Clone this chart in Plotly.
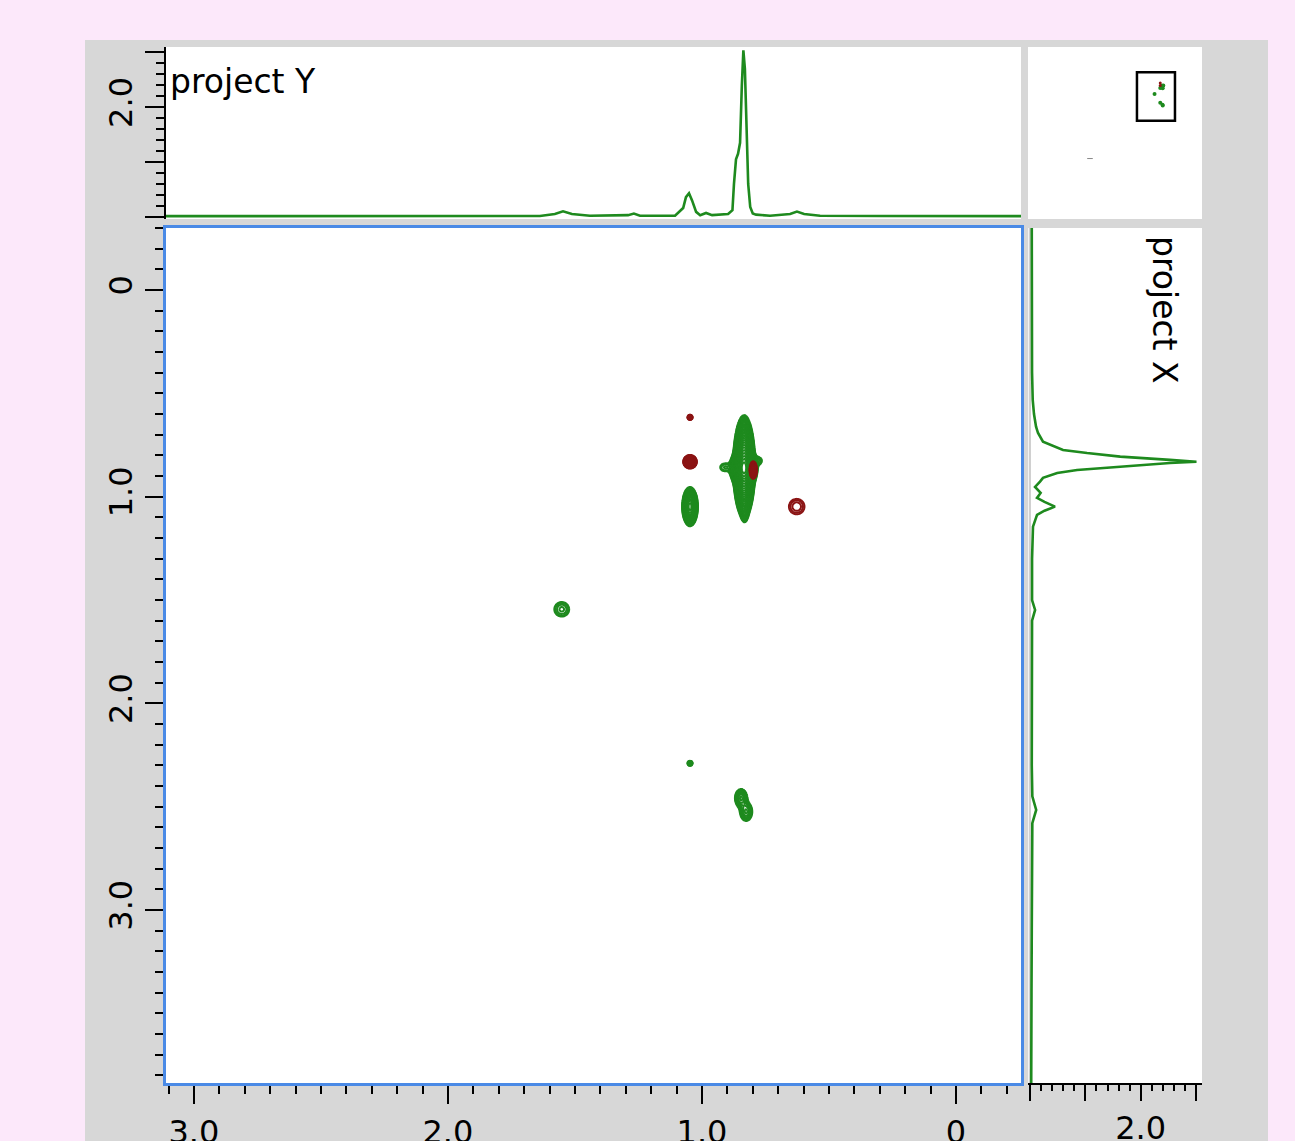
import numpy as np
import plotly.graph_objects as go

# ---------------- data ----------------
# top projection ("project Y"): F2 chemical shift (ppm) vs intensity
proj_y_ppm = [3.11, 2.50, 2.00, 1.70, 1.638, 1.579, 1.547, 1.512, 1.441, 1.291, 1.268, 1.244,
              1.106, 1.074, 1.063, 1.051, 1.039, 1.023, 1.007, 0.984, 0.960, 0.897, 0.880,
              0.874, 0.866, 0.858, 0.850, 0.843, 0.837, 0.831, 0.825, 0.818, 0.810, 0.800,
              0.787, 0.732, 0.653, 0.626, 0.598, 0.535, 0.30, 0.0, -0.256]
proj_y_int = [0.012, 0.012, 0.013, 0.014, 0.015, 0.05, 0.10, 0.05, 0.02, 0.03, 0.06, 0.02,
              0.02, 0.16, 0.36, 0.43, 0.30, 0.09, 0.03, 0.07, 0.03, 0.05, 0.12,
              0.60, 1.05, 1.15, 1.35, 2.40, 3.04, 2.70, 1.60, 0.60, 0.18, 0.06,
              0.04, 0.02, 0.05, 0.095, 0.05, 0.02, 0.015, 0.013, 0.012]

# right projection ("project X"): F1 chemical shift (ppm) vs intensity
proj_x_ppm = [-0.30, 0.10, 0.40, 0.532, 0.60, 0.661, 0.692, 0.734, 0.774, 0.789, 0.806, 0.822,
              0.831, 0.837, 0.855, 0.871, 0.885, 0.909, 0.927, 0.953, 0.982, 1.006, 1.025,
              1.048, 1.068, 1.088, 1.145, 1.30, 1.50, 1.548, 1.60, 1.80, 2.00, 2.30, 2.45,
              2.516, 2.58, 2.80, 3.10, 3.40, 3.837]
proj_x_int = [0.03, 0.03, 0.035, 0.047, 0.07, 0.107, 0.143, 0.233, 0.595, 1.03, 1.63, 2.53,
              3.01, 2.53, 1.63, 0.85, 0.49, 0.233, 0.179, 0.089, 0.19, 0.125, 0.26,
              0.45, 0.26, 0.125, 0.052, 0.035, 0.035, 0.09, 0.035, 0.03, 0.035, 0.03, 0.04,
              0.11, 0.04, 0.03, 0.03, 0.025, 0.02]

# positive cross peaks (F2 ppm, F1 ppm, relative height, linewidths in ppm)
pos_f2 = [0.834, 0.836, 0.832, 0.909, 0.778, 1.047, 1.552, 1.047, 0.846, 0.826]
pos_f1 = [0.855, 0.862, 1.070, 0.858, 0.826, 1.048, 1.545, 2.290, 2.459, 2.524]
pos_amp = [300, 200, 3.0, 1.6, 1.6, 40, 2.1, 4.0, 5.0, 4.0]
pos_wf2 = [0.0130, 0.0170, 0.008, 0.0197, 0.0142, 0.0115, 0.0240, 0.0062, 0.0135, 0.0145]
pos_wf1 = [0.074, 0.030, 0.030, 0.0194, 0.0174, 0.035, 0.0290, 0.0076, 0.025, 0.027]

# negative cross peaks
neg_f2 = [1.047, 1.047, 0.798, 0.627]
neg_f1 = [0.616, 0.831, 0.871, 1.048]
neg_amp = [5.0, 25.0, 12.0, 1.9]
neg_wf2 = [0.0058, 0.0106, 0.0066, 0.027]
neg_wf1 = [0.0072, 0.0130, 0.019, 0.033]

# overview: extra peak (solvent) outside the zoom window
solvent_f2 = [7.27]
solvent_f1 = [7.05]

x_ticks = [3.0, 2.0, 1.0, 0.0]
x_ticktext = ["3.0", "2.0", "1.0", "0"]
y_ticks = [0.0, 1.0, 2.0, 3.0]
y_ticktext = ["0", "1.0", "2.0", "3.0"]
proj_ticks = [0, 1, 2, 3]
proj_ticktext = ["", "", "2.0", ""]

# ---------------- styles ----------------
GREEN = "#1e8a1e"
RED = "#8b1414"
BLUE = "#4a8ae6"
PINK = "#fce8fa"
GRAY = "#d7d7d7"
FONT = "DejaVu Sans"
LEVEL_FACTOR = 1.25

X_RANGE = [3.110, -0.256]
Y_RANGE = [3.837, -0.300]

# contour field built from the peak list
gx = np.arange(0.50, 1.70, 0.003)
gy = np.arange(0.45, 2.70, 0.0035)
GX, GY = np.meshgrid(gx, gy)


def field(f2, f1, amp, w2, w1):
    z = np.zeros_like(GX)
    for a, b, c, d, e in zip(f2, f1, amp, w2, w1):
        z += c * np.exp(-0.5 * (((GX - a) / d) ** 2 + ((GY - b) / e) ** 2))
    return np.log(np.maximum(z, 1e-4)) / np.log(LEVEL_FACTOR)


zpos = field(pos_f2, pos_f1, pos_amp, pos_wf2, pos_wf1).astype(np.float32)
zneg = field(neg_f2, neg_f1, neg_amp, neg_wf2, neg_wf1).astype(np.float32)

# ---------------- layout helpers ----------------
L, R, T, B = 85, 27, 40, 0
W, H = 1295, 1141
PW, PH = W - L - R, H - T - B


def dx(a, b):
    return [(a - L) / PW, (b - L) / PW]


def dy(top, bot):
    return [1 - (bot - T) / PH, 1 - (top - T) / PH]


MAIN_X, MAIN_Y = dx(166, 1021), dy(228, 1083)
TOP_X, TOP_Y = dx(166, 1021), dy(47, 219)
RIGHT_X, RIGHT_Y = dx(1028.3, 1202), dy(228, 1083)
OV_X, OV_Y = dx(1028, 1202), dy(47, 219)

fig = go.Figure()

for zf, col in ((zpos, GREEN), (zneg, RED)):
    fig.add_trace(go.Contour(
        x=gx, y=gy, z=zf, xaxis="x", yaxis="y",
        contours=dict(start=0, end=40, size=1, coloring="lines"),
        autocontour=False,
        line=dict(width=2), colorscale=[[0, col], [1, col]],
        showscale=False, hoverinfo="skip"))

fig.add_trace(go.Scatter(x=proj_y_ppm, y=proj_y_int, xaxis="x2", yaxis="y2",
                         mode="lines", line=dict(color=GREEN, width=2.6)))
fig.add_trace(go.Scatter(x=proj_x_int, y=proj_x_ppm, xaxis="x3", yaxis="y3",
                         mode="lines", line=dict(color=GREEN, width=2.6)))

# overview thumbnail
fig.add_trace(go.Scatter(x=pos_f2, y=pos_f1, xaxis="x4", yaxis="y4", mode="markers",
                         marker=dict(color=GREEN, size=4, line=dict(width=0))))
fig.add_trace(go.Scatter(x=neg_f2[:2], y=neg_f1[:2], xaxis="x4", yaxis="y4", mode="markers",
                         marker=dict(color=RED, size=3, line=dict(width=0))))
fig.add_trace(go.Scatter(x=solvent_f2, y=solvent_f1, xaxis="x4", yaxis="y4", mode="markers",
                         marker=dict(color="#888888", size=4, symbol="line-ew",
                                     line=dict(color="#888888", width=1))))

tickfont = dict(family=FONT, size=32, color="black")


def white_panel(xd, yd):
    return dict(type="rect", xref="paper", yref="paper", x0=xd[0], x1=xd[1],
                y0=yd[0], y1=yd[1], fillcolor="white", line=dict(width=0), layer="below")


hidden = dict(showgrid=False, zeroline=False, showline=False,
              showticklabels=False, ticks="", automargin=False)

fig.update_layout(
    width=W, height=H,
    margin=dict(l=L, r=R, t=T, b=B, autoexpand=False),
    paper_bgcolor=PINK, plot_bgcolor="rgba(0,0,0,0)",
    showlegend=False,
    font=dict(family=FONT, size=32, color="black"),
    xaxis=dict(domain=MAIN_X, range=X_RANGE, anchor="y", automargin=False,
               showgrid=False, zeroline=False,
               showline=True, linecolor=BLUE, linewidth=2.5, mirror=True,
               ticks="outside", tickcolor="black", tickwidth=2, ticklen=18,
               tickmode="array", tickvals=x_ticks, ticktext=x_ticktext,
               tickfont=tickfont, ticklabelstandoff=1,
               minor=dict(ticks="outside", tickmode="linear", tick0=0, dtick=0.1,
                          ticklen=8, tickwidth=2, tickcolor="black")),
    yaxis=dict(domain=MAIN_Y, range=Y_RANGE, anchor="x", automargin=False,
               showgrid=False, zeroline=False,
               showline=True, linecolor=BLUE, linewidth=2.5, mirror=True,
               ticks="outside", tickcolor="black", tickwidth=2, ticklen=18,
               tickmode="array", tickvals=y_ticks, ticktext=y_ticktext,
               tickangle=-90, tickfont=tickfont, ticklabelstandoff=0,
               minor=dict(ticks="outside", tickmode="linear", tick0=0, dtick=0.1,
                          ticklen=8, tickwidth=2, tickcolor="black")),
    xaxis2=dict(domain=TOP_X, range=X_RANGE, anchor="y2", **hidden),
    yaxis2=dict(domain=TOP_Y, range=[-0.04, 3.10], anchor="x2", automargin=False,
                showgrid=False, zeroline=False,
                showline=True, linecolor="black", linewidth=2,
                ticks="outside", tickcolor="black", tickwidth=2, ticklen=19,
                tickmode="array", tickvals=proj_ticks, ticktext=proj_ticktext,
                tickangle=-90, tickfont=tickfont, ticklabelstandoff=0,
                minor=dict(ticks="outside", tickmode="linear", tick0=0, dtick=0.2,
                           ticklen=8, tickwidth=2, tickcolor="black")),
    xaxis3=dict(domain=RIGHT_X, range=[-0.033, 3.11], anchor="y3", automargin=False,
                showgrid=False, zeroline=True, zerolinecolor="#d0d0d0", zerolinewidth=2,
                showline=True, linecolor="black", linewidth=2,
                ticks="outside", tickcolor="black", tickwidth=2, ticklen=16,
                tickmode="array", tickvals=proj_ticks, ticktext=proj_ticktext,
                tickfont=tickfont, ticklabelstandoff=0,
                minor=dict(ticks="outside", tickmode="linear", tick0=0, dtick=0.2,
                           ticklen=6, tickwidth=2, tickcolor="black")),
    yaxis3=dict(domain=RIGHT_Y, range=Y_RANGE, anchor="x3", **hidden),
    xaxis4=dict(domain=OV_X, range=[12.76, -2.65], anchor="y4", **hidden),
    yaxis4=dict(domain=OV_Y, range=[12.2, -2.45], anchor="x4", **hidden),
    shapes=[
        dict(type="rect", xref="paper", yref="paper", x0=0, x1=1, y0=0, y1=1,
             fillcolor=GRAY, line=dict(width=0), layer="below"),
        white_panel(MAIN_X, MAIN_Y),
        white_panel(TOP_X, TOP_Y),
        white_panel(RIGHT_X, RIGHT_Y),
        white_panel(OV_X, OV_Y),
        dict(type="rect", xref="x4", yref="y4",
             x0=X_RANGE[0], x1=X_RANGE[1], y0=Y_RANGE[1], y1=Y_RANGE[0],
             line=dict(color="black", width=2.5), fillcolor="rgba(0,0,0,0)"),
    ],
    annotations=[
        dict(text="project Y", xref="x2 domain", yref="y2 domain", x=0, y=1,
             xanchor="left", yanchor="top", xshift=2, yshift=-13, showarrow=False,
             font=dict(family=FONT, size=33, color="black")),
        dict(text="project X", xref="x3 domain", yref="y3 domain",
             x=(1165 - 1028.3) / (1202 - 1028.3), y=(1083 - 310) / (1083 - 228),
             xanchor="center", yanchor="middle", textangle=90, showarrow=False,
             font=dict(family=FONT, size=33, color="black")),
    ],
)

fig.write_html("out.html",
               config={"displayModeBar": False},
               post_script="document.body.style.margin='0';"
                           "document.body.style.background='" + PINK + "';")
